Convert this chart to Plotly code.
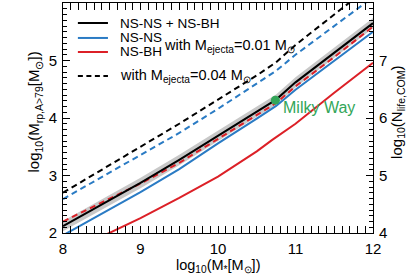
import plotly.graph_objects as go

# ---- data ----
mstar = [8.0, 8.5, 9.0, 9.5, 10.0, 10.5, 10.75, 11.0, 11.5, 12.0]

total_001 = [2.12, 2.49, 2.87, 3.27, 3.69, 4.10, 4.32, 4.62, 5.13, 5.65]
band_hi = [2.21, 2.58, 2.96, 3.36, 3.78, 4.19, 4.41, 4.71, 5.22, 5.74]
band_lo = [2.03, 2.40, 2.78, 3.18, 3.60, 4.01, 4.23, 4.53, 5.04, 5.56]
nsns_001 = [1.96, 2.33, 2.71, 3.11, 3.56, 3.99, 4.21, 4.49, 4.99, 5.50]
nsbh_001 = [1.55, 1.93, 2.26, 2.61, 2.98, 3.42, 3.62, 3.90, 4.44, 4.96]
nsbh_001_x = [7.9, 8.5, 9.0, 9.5, 10.0, 10.5, 10.7, 11.0, 11.5, 12.0]
total_004_red = [2.20, 2.53, 2.86, 3.22, 3.63, 4.04, 4.26, 4.55, 5.06, 5.59]
total_004 = [2.70, 3.10, 3.50, 3.90, 4.32, 4.74, 4.97, 5.27, 5.80, 6.33]
nsns_004 = [2.59, 2.97, 3.35, 3.74, 4.16, 4.59, 4.82, 5.10, 5.60, 6.10]

mw_x = [10.74]
mw_y = [4.31]

BLACK = "#000000"
BLUE = "#2a7bc4"
RED = "#dc2027"
GREEN = "#33a659"
GRAY = "#c8c8c8"
DASH = "6px,4px"

fig = go.Figure()

fig.add_trace(go.Scatter(x=mstar, y=band_hi, mode="lines", line=dict(width=0),
                         showlegend=False, hoverinfo="skip"))
fig.add_trace(go.Scatter(x=mstar, y=band_lo, mode="lines", line=dict(width=0),
                         fill="tonexty", fillcolor=GRAY, showlegend=False, hoverinfo="skip"))

fig.add_trace(go.Scatter(x=mstar, y=total_004, mode="lines",
                         line=dict(color=BLACK, width=2, dash=DASH), showlegend=False))
fig.add_trace(go.Scatter(x=mstar, y=nsns_004, mode="lines",
                         line=dict(color=BLUE, width=2, dash=DASH), showlegend=False))
fig.add_trace(go.Scatter(x=mstar, y=nsns_001, mode="lines",
                         line=dict(color=BLUE, width=2), showlegend=False))
fig.add_trace(go.Scatter(x=nsbh_001_x, y=nsbh_001, mode="lines",
                         line=dict(color=RED, width=2), showlegend=False))
fig.add_trace(go.Scatter(x=mstar, y=total_004_red, mode="lines",
                         line=dict(color=RED, width=2, dash=DASH), showlegend=False))
fig.add_trace(go.Scatter(x=mstar, y=total_001, mode="lines",
                         line=dict(color=BLACK, width=2), showlegend=False))
fig.add_trace(go.Scatter(x=mw_x, y=mw_y, mode="markers",
                         marker=dict(color=GREEN, size=9), showlegend=False))
# dummy trace so the right axis is drawn
fig.add_trace(go.Scatter(x=[8], y=[4], yaxis="y2", mode="markers", opacity=0,
                         showlegend=False, hoverinfo="skip"))

FONT = "Liberation Sans, Arial, sans-serif"

# ---- manual legend ----
rows = [(0.913, BLACK, "solid", "NS-NS + NS-BH", 13.5),
        (0.848, BLUE, "solid", "NS-NS", 13.5),
        (0.787, RED, "solid", "NS-BH", 13.5),
        (0.683, BLACK, "dash", "with M<sub>ejecta</sub>=0.04 M<sub>⊙</sub>", 14.5)]
for y, c, d, t, fs in rows:
    fig.add_shape(type="line", xref="paper", yref="paper", x0=0.048, x1=0.145, y0=y, y1=y,
                  line=dict(color=c, width=2, dash=("solid" if d == "solid" else "5px,3.5px")))
    fig.add_annotation(xref="paper", yref="paper", x=0.178, y=y, text=t, showarrow=False,
                       xanchor="left", yanchor="middle", font=dict(size=fs, color="black"))
fig.add_annotation(xref="paper", yref="paper", x=0.318, y=0.812,
                   text="with M<sub>ejecta</sub>=0.01 M<sub>⊙</sub>", showarrow=False,
                   xanchor="left", yanchor="middle", font=dict(size=14.5, color="black"))

fig.add_annotation(x=10.81, y=4.18, text="Milky Way", showarrow=False, xanchor="left",
                   yanchor="middle", font=dict(size=16, color=GREEN))

# ---- axis titles ----
fig.add_annotation(xref="paper", yref="paper", x=0.5, y=-0.144,
                   text="log<sub>10</sub>(M<sub>*</sub>[M<sub>⊙</sub>])", showarrow=False,
                   xanchor="center", yanchor="middle", font=dict(size=14.5, color="black"))
fig.add_annotation(xref="paper", yref="paper", x=-0.092, y=0.526, textangle=-90,
                   text="log<sub>10</sub>(M<sub>rp,A&gt;79</sub>[M<sub>⊙</sub>])", showarrow=False,
                   xanchor="center", yanchor="middle", font=dict(size=15, color="black"))
fig.add_annotation(xref="paper", yref="paper", x=1.077, y=0.526, textangle=-90,
                   text="log<sub>10</sub>(N<sub>life,COM</sub>)", showarrow=False,
                   xanchor="center", yanchor="middle", font=dict(size=15, color="black"))

axis_common = dict(showline=True, linecolor="black", linewidth=1, ticks="inside",
                   ticklen=7, tickwidth=1, tickcolor="black", showgrid=False, zeroline=False,
                   automargin=False, tickmode="linear", dtick=1,
                   minor=dict(dtick=0.1, ticks="inside", ticklen=4, tickwidth=1,
                              tickcolor="black", showgrid=False),
                   tickfont=dict(size=15, color="black"))

fig.update_layout(
    width=415, height=275,
    margin=dict(l=63, r=42, t=3, b=42),
    paper_bgcolor="white", plot_bgcolor="white",
    font=dict(family=FONT, color="black"),
    xaxis=dict(range=[8, 12], tick0=8, mirror="allticks", ticklabelstandoff=2,
               **axis_common),
    yaxis=dict(range=[2, 6], tick0=2, ticklabelstandoff=2, **axis_common),
    yaxis2=dict(range=[4, 8], tick0=4, overlaying="y", side="right", ticklabelstandoff=2,
                **axis_common),
)

fig.write_html("out.html", config={"displayModeBar": False},
               post_script="document.body.style.margin='0';document.body.style.overflow='hidden';")
